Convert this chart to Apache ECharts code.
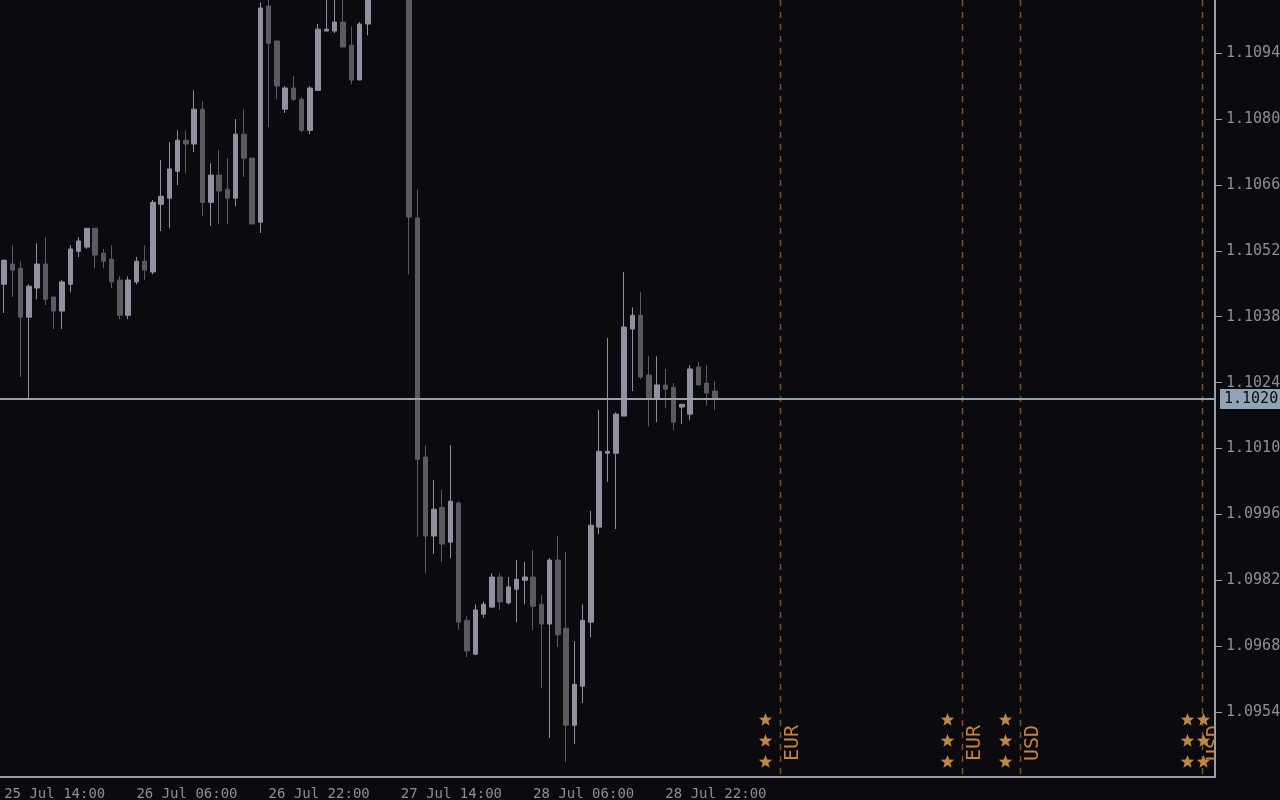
<!DOCTYPE html>
<html><head><meta charset="utf-8">
<script src="https://cdn.jsdelivr.net/npm/echarts@6/dist/echarts.min.js"></script>
<style>html,body{margin:0;padding:0;background:#0a0a0f;}#c{width:1280px;height:800px;}</style>
</head><body><div id="c"></div>
<script>
// ---- data (EURUSD H1 style) ----
const open = [
1.10449,1.10492,1.10483,1.10379,1.10441,1.10492,1.10422,1.10392,1.10449,1.10519,
1.10528,1.10568,1.10515,1.10502,1.10458,1.10383,1.10454,1.10498,1.10475,1.10619,
1.10632,1.10689,1.10755,1.10747,1.10821,1.10623,1.10681,1.10651,1.10632,1.10768,
1.10717,1.10581,1.11040,1.10966,1.10821,1.10866,1.10842,1.10776,1.10861,1.10987,
1.10987,1.11006,1.10957,1.10883,1.11002,1.11075,1.11110,1.11095,1.11120,1.11100,
1.10590,1.10082,1.09914,1.09975,1.09901,1.09984,1.09735,1.09663,1.09748,1.09763,
1.09827,1.09772,1.09801,1.09820,1.09827,1.09769,1.09727,1.09863,1.09718,1.09512,
1.09595,1.09731,1.09933,1.10090,1.10090,1.10169,1.10354,1.10383,1.10256,1.10205,
1.10235,1.10230,1.10188,1.10173,1.10273,1.10239,1.10222];
const close = [
1.10500,1.10479,1.10379,1.10445,1.10492,1.10417,1.10392,1.10454,1.10524,1.10541,
1.10568,1.10511,1.10498,1.10454,1.10383,1.10458,1.10498,1.10479,1.10623,1.10636,
1.10694,1.10755,1.10747,1.10821,1.10623,1.10681,1.10647,1.10632,1.10768,1.10717,
1.10577,1.11036,1.10961,1.10870,1.10866,1.10842,1.10776,1.10866,1.10991,1.10991,
1.11006,1.10953,1.10883,1.11002,1.11075,1.11110,1.11095,1.11120,1.11100,1.10592,
1.10077,1.09914,1.09971,1.09897,1.09988,1.09731,1.09670,1.09757,1.09769,1.09827,
1.09774,1.09806,1.09822,1.09827,1.09765,1.09727,1.09863,1.09704,1.09512,1.09599,
1.09735,1.09937,1.10094,1.10094,1.10173,1.10358,1.10383,1.10252,1.10207,1.10235,
1.10226,1.10156,1.10194,1.10269,1.10235,1.10218,1.10205];
const low = [
1.10388,1.10422,1.10252,1.10205,1.10417,1.10405,1.10354,1.10354,1.10432,1.10507,
1.10524,1.10483,1.10483,1.10441,1.10375,1.10375,1.10449,1.10458,1.10470,1.10562,
1.10568,1.10660,1.10685,1.10730,1.10594,1.10573,1.10577,1.10577,1.10615,1.10677,
1.10577,1.10558,1.10783,1.10842,1.10813,1.10838,1.10772,1.10768,1.10861,1.10987,
1.10983,1.10953,1.10874,1.10883,1.10978,1.11062,1.11080,1.11085,1.11070,1.10470,
1.09912,1.09835,1.09876,1.09859,1.09867,1.09714,1.09657,1.09661,1.09740,1.09761,
1.09757,1.09769,1.09731,1.09769,1.09714,1.09591,1.09485,1.09678,1.09434,1.09472,
1.09559,1.09699,1.09918,1.10029,1.09929,1.10169,1.10222,1.10247,1.10147,1.10156,
1.10186,1.10139,1.10152,1.10160,1.10235,1.10190,1.10182];
const high = [
1.10502,1.10532,1.10498,1.10449,1.10536,1.10549,1.10422,1.10458,1.10532,1.10549,
1.10568,1.10568,1.10524,1.10532,1.10466,1.10466,1.10507,1.10532,1.10628,1.10713,
1.10751,1.10776,1.10776,1.10861,1.10838,1.10706,1.10734,1.10717,1.10800,1.10821,
1.10717,1.11048,1.11053,1.10966,1.10870,1.10891,1.10846,1.10870,1.11002,1.11070,
1.11060,1.11058,1.10997,1.11006,1.11090,1.11125,1.11135,1.11140,1.11130,1.11110,
1.10651,1.10107,1.10033,1.10012,1.10107,1.09988,1.09744,1.09769,1.09774,1.09835,
1.09835,1.09827,1.09863,1.09859,1.09884,1.09789,1.09867,1.09914,1.09880,1.09691,
1.09769,1.09967,1.10182,1.10335,1.10177,1.10475,1.10400,1.10432,1.10296,1.10296,
1.10269,1.10239,1.10194,1.10277,1.10284,1.10277,1.10243];

const priceTicks = [1.0954,1.0968,1.0982,1.0996,1.1010,1.1024,1.1038,1.1052,1.1066,1.1080,1.1094];
const tickLabels = ['25 Jul 14:00','26 Jul 06:00','26 Jul 22:00','27 Jul 14:00','28 Jul 06:00','28 Jul 22:00'];
const eventSlots = [94,116,123,145,147];
const eventCurrency = ['EUR','EUR','USD','USD','USD'];

// ---- build ----
const slotCount = 147;           // hourly slots shown on the time axis (incl. future)
const categories = [];
for (let i = 0; i < slotCount; i++) {
  const h = 14 + i;
  const day = 25 + Math.floor(h / 24);
  categories.push(day + ' Jul ' + String(h % 24).padStart(2, '0') + ':00');
}
const candles = open.map((o, i) => [o, close[i], low[i], high[i]]);
const lastPrice = close[close.length - 1];
const yMin = 1.09402, yMax = 1.11053;

const BG = '#0a0a0f', AX = '#9c9ca4', TXT = '#8e8e98', FONT = 'DejaVu Sans Mono';

function starPoints(cx, cy, R, r) {
  const pts = [];
  for (let k = 0; k < 10; k++) {
    const a = -Math.PI / 2 + k * Math.PI / 5;
    const rr = k % 2 ? r : R;
    pts.push([cx + rr * Math.cos(a), cy + rr * Math.sin(a)]);
  }
  return pts;
}

function renderEvent(params, api) {
  const cs = params.coordSys;
  const x = Math.round(api.coord([api.value(0), yMin])[0]) - 0.5;
  const bottom = cs.y + cs.height;
  const children = [{
    type: 'line', shape: { x1: x, y1: cs.y, x2: x, y2: bottom },
    style: { stroke: '#7a5322', lineWidth: 1.5, lineDash: [6, 6] }
  }];
  [57, 36, 15].forEach(dy => children.push({
    type: 'polygon', shape: { points: starPoints(x - 15, bottom - dy, 7, 3) },
    style: { fill: '#c08740' }
  }));
  children.push({
    type: 'text', x: x + 2, y: bottom - 16, rotation: Math.PI / 2,
    style: { text: eventCurrency[params.dataIndex], fill: '#c8843a',
      font: '20px "' + FONT + '"', textAlign: 'left', textVerticalAlign: 'top' }
  });
  return { type: 'group', children,
    clipPath: { type: 'rect', shape: { x: cs.x, y: cs.y, width: cs.width, height: cs.height } } };
}

const chart = echarts.init(document.getElementById('c'), null, { renderer: 'canvas' });
chart.setOption({
  backgroundColor: BG,
  animation: false,
  grid: { left: 0, right: 65, top: 0, bottom: 23, containLabel: false, outerBoundsMode: 'none' },
  xAxis: {
    type: 'category', data: categories, boundaryGap: true,
    axisLine: { lineStyle: { color: AX, width: 2 } },
    axisTick: { alignWithLabel: true, interval: (i, v) => tickLabels.includes(v), length: 8, lineStyle: { color: AX } },
    axisLabel: { interval: (i, v) => tickLabels.includes(v), align: 'left', margin: 10,
      color: TXT, fontFamily: FONT, fontSize: 14 },
    splitLine: { show: false }
  },
  yAxis: {
    type: 'value', position: 'right', min: yMin, max: yMax, scale: true,
    axisLine: { show: true, lineStyle: { color: AX, width: 2 } },
    axisTick: { show: true, customValues: priceTicks, length: 7, lineStyle: { color: AX } },
    axisLabel: { customValues: priceTicks, formatter: v => v.toFixed(4), margin: 11,
      color: TXT, fontFamily: FONT, fontSize: 15 },
    splitLine: { show: false }
  },
  series: [{
    type: 'candlestick', data: candles, barWidth: 5, clip: true,
    itemStyle: { color: '#8f919f', color0: '#5a5a5f', borderColor: '#8f919f', borderColor0: '#5a5a5f', borderWidth: 1 },
    emphasis: { disabled: true },
    markLine: {
      silent: true, symbol: ['none', 'none'], animation: false, precision: 5,
      lineStyle: { color: '#8ea3b3', width: 2, type: 'solid' },
      label: { show: true, position: 'end', distance: 5,
        formatter: p => (Math.floor(p.value * 1e4 + 1e-6) / 1e4).toFixed(4),
        backgroundColor: '#8ea3b3', color: '#0a0a0f', fontFamily: FONT, fontSize: 15,
        padding: [3, 6, 2, 4] },
      emphasis: { disabled: true },
      data: [{ yAxis: lastPrice }]
    }
  }, {
    type: 'custom', data: eventSlots.map(s => [s]), renderItem: renderEvent,
    silent: true, z: 1, encode: { x: 0 }
  }]
});
</script></body></html>
